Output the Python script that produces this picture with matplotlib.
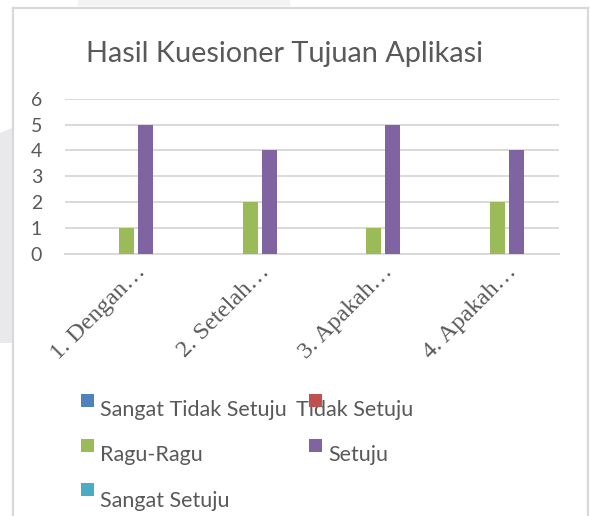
import matplotlib
matplotlib.use("Agg")
import matplotlib.pyplot as plt
from matplotlib.patches import Rectangle, Polygon
from matplotlib.transforms import ScaledTranslation
from matplotlib.lines import Line2D

# data
categories = ["1. Dengan…", "2. Setelah…", "3. Apakah…", "4. Apakah…"]
series_names = ["Sangat Tidak Setuju", "Tidak Setuju", "Ragu-Ragu", "Setuju", "Sangat Setuju"]
sangat_tidak_setuju = [0, 0, 0, 0]
tidak_setuju = [0, 0, 0, 0]
ragu_ragu = [1, 2, 1, 2]
setuju = [5, 4, 5, 4]
sangat_setuju = [0, 0, 0, 0]
y_ticks = [0, 1, 2, 3, 4, 5, 6]

series_values = [sangat_tidak_setuju, tidak_setuju, ragu_ragu, setuju, sangat_setuju]
colours = ["#4F81BD", "#C0504D", "#9BBB59", "#8064A2", "#4BACC6"]
text_grey = "#595959"
line_grey = "#d9d9d9"

W, H = 590, 516
fig = plt.figure(figsize=(W / 100, H / 100), dpi=100)
fig.patch.set_facecolor("white")


def px(x, y):
    # pixel coords (from top-left) -> figure fraction
    return x / W, 1 - y / H


# page shadow on the left and chart border
fig.patches.append(Polygon([px(0, 133), px(12, 128), px(12, 343), px(0, 343)],
                           closed=True, transform=fig.transFigure,
                           facecolor="#e9e9eb", edgecolor="none", zorder=0))
fig.patches.append(Rectangle(px(78, 6), 212 / W, 6 / H, transform=fig.transFigure,
                             facecolor="#f3f3f3", edgecolor="none", zorder=0))
for xs, ys in [((13, 13), (8, 520)), ((13, 588), (8, 8)), ((588, 588), (8, 520))]:
    p0, p1 = px(xs[0], ys[0]), px(xs[1], ys[1])
    fig.lines.append(Line2D([p0[0], p1[0]], [p0[1], p1[1]], transform=fig.transFigure,
                            color=line_grey, lw=1.6, zorder=1))

# plot area
left, right, top, bottom = 65, 559, 98.7, 254
ax = fig.add_axes([left / W, 1 - bottom / H, (right - left) / W, (bottom - top) / H])
ax.set_facecolor("none")

bar_w = 0.121
step = 0.154
xs = range(len(categories))
for k, (vals, c) in enumerate(zip(series_values, colours)):
    ax.bar([i + (k - 2) * step for i in xs], vals, width=bar_w, color=c,
           zorder=3, label=series_names[k])

ax.set_xlim(-0.5, len(categories) - 0.5)
ax.set_ylim(0, 6)
ax.set_yticks(y_ticks)
ax.yaxis.grid(True, color=line_grey, lw=1.4, zorder=0)
ax.set_axisbelow(True)
for s in ["top", "right", "left"]:
    ax.spines[s].set_visible(False)
ax.spines["bottom"].set_color(line_grey)
ax.spines["bottom"].set_linewidth(1.4)

ax.tick_params(axis="y", length=0, pad=16.5, labelsize=14, labelcolor=text_grey)
for lbl in ax.get_yticklabels():
    lbl.set_family("Lato")

ax.set_xticks(list(xs))
ax.set_xticklabels(categories, rotation=45, ha="right", va="center",
                   rotation_mode="anchor", family="Liberation Serif", fontsize=17.5,
                   color=text_grey)
ax.tick_params(axis="x", length=0, pad=0)
offset = ScaledTranslation(0.16, -0.15, fig.dpi_scale_trans)
for lbl in ax.get_xticklabels():
    lbl.set_transform(lbl.get_transform() + offset)

# title
fig.text(*px(285, 62), "Hasil Kuesioner Tujuan Aplikasi", ha="center", va="baseline",
         fontsize=20.8, family="Lato", color=text_grey)

# legend, drawn the way the original lays it out
marker_pos = [(81, 394), (309, 394), (81, 439), (309, 439), (81, 483)]
text_pos = [(100, 416), (296, 416), (100, 461), (328, 461), (100, 507)]
for name, c, (mx, my), (tx, ty) in zip(series_names, colours, marker_pos, text_pos):
    fig.patches.append(Rectangle(px(mx, my + 13), 13 / W, 13 / H, transform=fig.transFigure,
                                 facecolor=c, edgecolor="none", zorder=4))
    fig.text(*px(tx, ty), name, ha="left", va="baseline", fontsize=15.5,
             family="Lato", color=text_grey, zorder=3)

fig.savefig("out.png", dpi=100, facecolor="white")
